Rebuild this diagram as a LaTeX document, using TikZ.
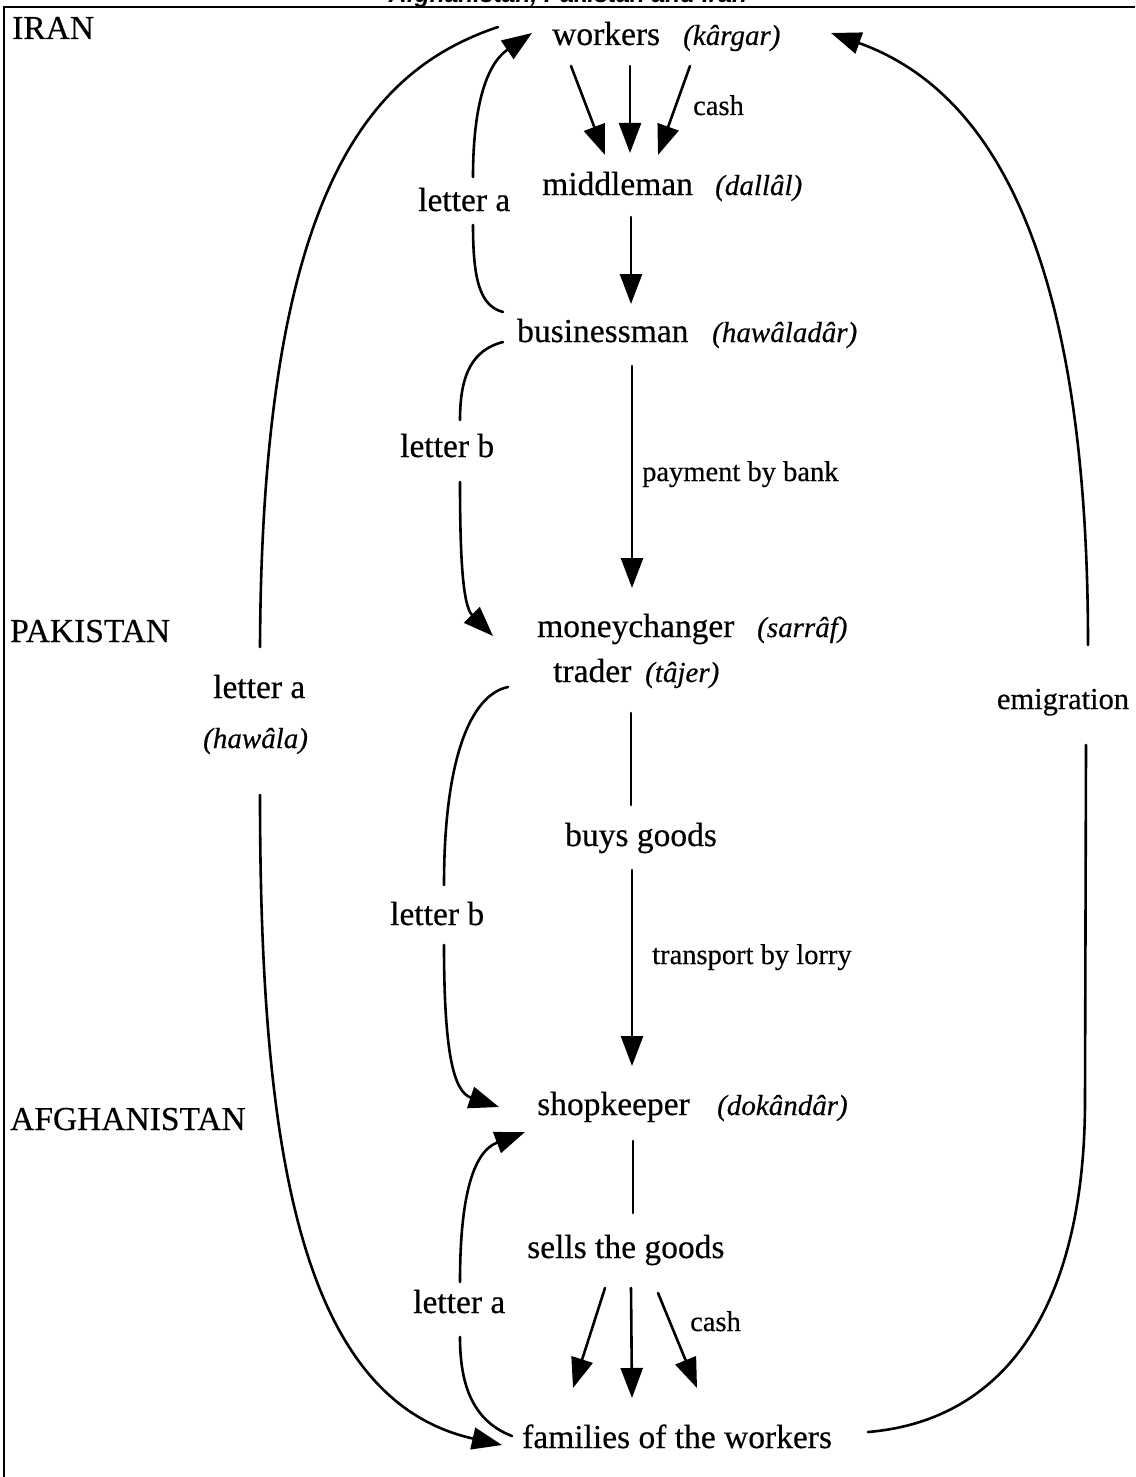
\documentclass[tikz,border=0pt]{standalone}
\usepackage{fontspec}
\setmainfont{Liberation Serif}[FakeBold=0.45]
\newfontfamily\titlefont{Liberation Sans}
\usetikzlibrary{arrows.meta}
\begin{document}
\begin{tikzpicture}[x=1pt,y=-1pt,
  conn/.style={line width=2.6pt, line cap=round},
  arr/.style={conn, -{Triangle[length=30pt,width=22pt]}},
  txt/.style={inner sep=0pt, anchor=base west, font=\fontsize{33.5}{40}\selectfont},
  itx/.style={inner sep=0pt, anchor=base west, font=\fontsize{29}{35}\selectfont\itshape},
  sml/.style={inner sep=0pt, anchor=base west, font=\fontsize{28.5}{34}\selectfont},
]
\useasboundingbox (0,0) rectangle (1135,1477);
% frame and title
\draw[line width=2.2pt] (1135,7) -- (4,7) -- (4,1477);
\node[inner sep=0pt, anchor=base, font=\titlefont\bfseries\itshape\fontsize{24.5}{30}\selectfont] (title) at (568,3) {Afghanistan, Pakistan and Iran};
% country labels
\node[txt] (iran) at (12,39) {IRAN};
\node[txt] (pak) at (10,642) {PAKISTAN};
\node[txt] (afg) at (10,1130) {AFGHANISTAN};
% main chain
\node[txt] (workers) at (552,45) {workers};
\node[itx] (kargar) at (683,45) {(kârgar)};
\node[sml] (cash1) at (693,115) {cash};
\node[txt] (middle) at (542,195) {middleman};
\node[itx] (dallal) at (715,195) {(dallâl)};
\node[txt] (la1) at (418,211) {letter a};
\node[txt] (business) at (517,342) {businessman};
\node[itx] (hawaladar) at (712,342) {(hawâladâr)};
\node[txt] (lb1) at (400,457) {letter b};
\node[sml] (pay) at (642,481) {payment by bank};
\node[txt] (money) at (537,637) {moneychanger};
\node[itx] (sarraf) at (757,637) {(sarrâf)};
\node[txt] (trader) at (553,682) {trader};
\node[itx] (tajer) at (645,682) {(tâjer)};
\node[txt] (la2) at (213,698) {letter a};
\node[itx] (hawala) at (203,748) {(hawâla)};
\node[txt, anchor=base, font=\fontsize{30.5}{36}\selectfont] (emig) at (1063,709) {emigration};
\node[txt] (buys) at (565,846) {buys goods};
\node[txt] (lb2) at (390,925) {letter b};
\node[sml] (lorry) at (652,964) {transport by lorry};
\node[txt] (shop) at (537,1115) {shopkeeper};
\node[itx] (dokandar) at (717,1115) {(dokândâr)};
\node[txt] (sells) at (527,1258) {sells the goods};
\node[txt] (la3) at (413,1313) {letter a};
\node[sml] (cash2) at (690,1331) {cash};
\node[txt] (fam) at (522,1448) {families of the workers};
% workers -> middleman (cash)
\draw[arr] (571,66) coordinate (wa) -- (605,155) coordinate (ma);
\draw[arr] (630,66) coordinate (wb) -- (630,153) coordinate (mb);
\draw[arr] (690,66) coordinate (wc) -- (658,155) coordinate (mc);
% middleman -> businessman
\draw[arr] (631,217) coordinate (m0) -- (631,304) coordinate (b0);
% businessman -> moneychanger
\draw[arr] (632,366) coordinate (b1) -- (632,588) coordinate (mo0);
% trader -> buys goods
\draw[conn] (631,713) coordinate (t0) -- (631,805) coordinate (bg0);
% buys goods -> shopkeeper
\draw[arr] (632,870) coordinate (bg1) -- (632,1066) coordinate (s0);
% shopkeeper -> sells
\draw[conn] (633,1141) coordinate (s1) -- (633,1213) coordinate (se0);
% sells -> families (cash)
\draw[arr] (605,1288) coordinate (sa) -- (573,1388) coordinate (fa);
\draw[arr] (631,1288) coordinate (sb) -- (632,1398) coordinate (fb);
\draw[arr] (658,1293) coordinate (sc) -- (697,1388) coordinate (fc);
% letter a (top): businessman -> workers
\draw[conn] (503,312) coordinate (la1s) .. controls (480,306) and (473,280) .. (473,225) coordinate (la1g1);
\draw[arr] (473,177) coordinate (la1g2) .. controls (473,110) and (485,65) .. (532,33) coordinate (la1e);
% letter b (upper): businessman -> moneychanger
\draw[conn] (503,342) coordinate (lb1s) .. controls (472,350) and (460,375) .. (460,420) coordinate (lb1g1);
\draw[arr] (460,482) coordinate (lb1g2) .. controls (460,560) and (463,606) .. (493,636) coordinate (lb1e);
% letter b (lower): trader -> shopkeeper
\draw[conn] (508,687) coordinate (lb2s) .. controls (470,695) and (444,760) .. (444,885) coordinate (lb2g1);
\draw[arr] (444,945) coordinate (lb2g2) .. controls (444,1055) and (454,1092) .. (499,1107) coordinate (lb2e);
% letter a (lower): families -> shopkeeper
\draw[conn] (512,1436) coordinate (la3s) .. controls (470,1420) and (460,1380) .. (460,1337) coordinate (la3g1);
\draw[arr] (460,1282) coordinate (la3g2) .. controls (460,1200) and (472,1152) .. (525,1132) coordinate (la3e);
% letter a (hawala): workers -> families
\draw[conn] (498,27) coordinate (lhs) .. controls (370,70) and (262,190) .. (260,647) coordinate (lhg1);
\draw[arr] (260,795) coordinate (lhg2) .. controls (260,1150) and (300,1400) .. (502,1445) coordinate (lhe);
% emigration: families -> workers
\draw[conn] (868,1432) coordinate (ems) .. controls (1010,1420) and (1085,1300) .. (1085,1100) -- (1086,745) coordinate (emg1);
\draw[arr] (1088,645) coordinate (emg2) .. controls (1088,250) and (990,90) .. (831,33) coordinate (eme);
\end{tikzpicture}
\end{document}
